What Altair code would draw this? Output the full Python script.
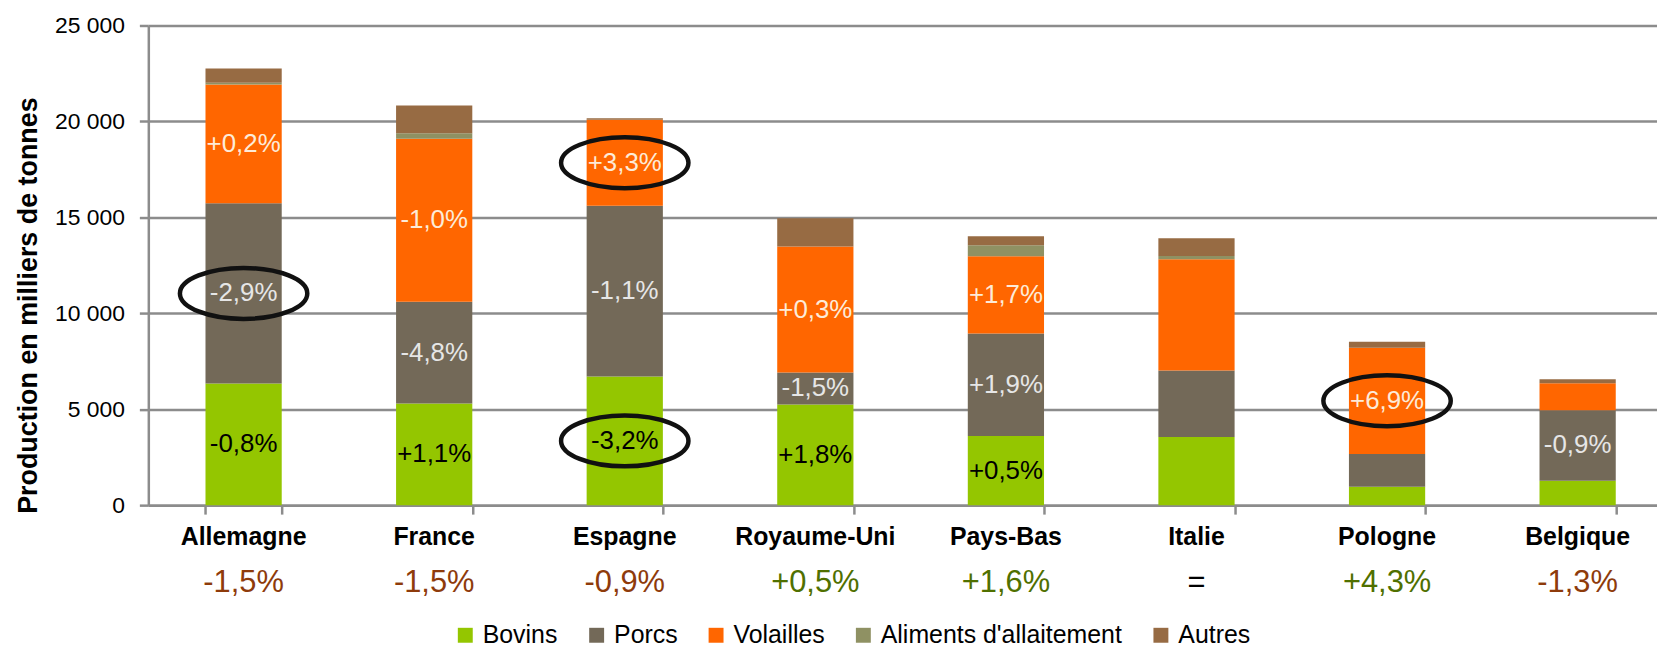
import altair as alt
import pandas as pd

countries = ["Allemagne", "France", "Espagne", "Royaume-Uni", "Pays-Bas", "Italie", "Pologne", "Belgique"]
categories = ["Bovins", "Porcs", "Volailles", "Aliments d'allaitement", "Autres"]

bovins = [6340, 5300, 6700, 5250, 3600, 3550, 960, 1270]
porcs = [9390, 5300, 8900, 1660, 5350, 3470, 1710, 3680]
volailles = [6190, 8490, 4490, 6570, 4020, 5800, 5540, 1400]
aliments = [100, 290, 0, 0, 570, 160, 0, 0]
autres = [740, 1450, 70, 1470, 470, 930, 310, 210]

bovins_labels = ["-0,8%", "+1,1%", "-3,2%", "+1,8%", "+0,5%", "", "", ""]
porcs_labels = ["-2,9%", "-4,8%", "-1,1%", "-1,5%", "+1,9%", "", "", "-0,9%"]
volailles_labels = ["+0,2%", "-1,0%", "+3,3%", "+0,3%", "+1,7%", "", "+6,9%", ""]
aliments_labels = [""] * 8
autres_labels = [""] * 8

total_labels = ["-1,5%", "-1,5%", "-0,9%", "+0,5%", "+1,6%", "=", "+4,3%", "-1,3%"]

circled = [("Allemagne", "Porcs"), ("Espagne", "Volailles"), ("Espagne", "Bovins"), ("Pologne", "Volailles")]

colors = ["#94C600", "#736958", "#FF6600", "#8F9163", "#976B43"]
label_colors = ["#000000", "#E6E6E6", "#FDEBD8", "#000000", "#000000"]

series = [bovins, porcs, volailles, aliments, autres]
series_labels = [bovins_labels, porcs_labels, volailles_labels, aliments_labels, autres_labels]

rows = []
for i, c in enumerate(countries):
    base = 0
    for k, cat in enumerate(categories):
        v = series[k][i]
        rows.append({
            "country": c, "category": cat, "order": k, "value": v,
            "start": base, "end": base + v, "mid": base + v / 2,
            "label": series_labels[k][i],
            "circled": (c, cat) in circled,
        })
        base += v
df = pd.DataFrame(rows)

tot = pd.DataFrame({"country": countries, "total": total_labels})
tot["sign"] = tot["total"].str[0].map({"-": "neg", "+": "pos", "=": "eq"})

FONT = "Liberation Sans"
W, H = 1516, 482
STEP_RANGE = 1532

xscale = alt.Scale(domain=countries, range=[0, STEP_RANGE], paddingInner=0.6, paddingOuter=0.3)
yscale = alt.Scale(domain=[0, 25000], nice=False)

x_enc = alt.X("country:N", scale=xscale, sort=countries,
              axis=alt.Axis(title=None, labels=False, tickBand="extent", tickSize=9,
                            domainColor="#8C8C8C", tickColor="#8C8C8C",
                            domainWidth=2.5, tickWidth=2.5, grid=False))

bars = alt.Chart(df).mark_bar().encode(
    x=x_enc,
    y=alt.Y("start:Q", scale=yscale,
            axis=alt.Axis(values=[0, 5000, 10000, 15000, 20000, 25000],
                          labelExpr="replace(format(datum.value, ','), ',', ' ')",
                          title="Production en milliers de tonnes",
                          titleFont=FONT, titleFontSize=27, titleFontWeight="bold",
                          titleColor="#000000", titleX=-120, titleY=281,
                          titleAngle=-90, titleBaseline="middle", titleAlign="center",
                          labelFont=FONT, labelFontSize=23, labelColor="#000000",
                          labelPadding=15, tickSize=9,
                          tickColor="#8C8C8C", tickWidth=2.5,
                          domainColor="#8C8C8C", domainWidth=2.5,
                          grid=True, gridColor="#8C8C8C", gridWidth=2.5)),
    y2="end:Q",
    color=alt.Color("category:N", scale=alt.Scale(domain=categories, range=colors),
                    sort=categories,
                    legend=alt.Legend(title=None, orient="none", direction="horizontal",
                                      legendX=306, legendY=600,
                                      symbolType="square", symbolSize=225,
                                      symbolStrokeWidth=0, labelFont=FONT,
                                      labelFontSize=25, labelColor="#000000",
                                      labelLimit=0, labelOffset=5, columnPadding=26)),
    order=alt.Order("order:Q"),
)

seg_labels = alt.Chart(df).transform_filter("datum.label != ''").mark_text(
    font=FONT, fontSize=26, baseline="middle", align="center"
).encode(
    x=alt.X("country:N", scale=xscale, sort=countries),
    y=alt.Y("mid:Q", scale=yscale),
    text="label:N",
    color=alt.Color("category:N", scale=alt.Scale(domain=categories, range=label_colors), legend=None),
)

ellipses = alt.Chart(df).transform_filter("datum.circled").mark_point(
    shape="M -1 0 A 1 0.4 0 1 1 1 0 A 1 0.4 0 1 1 -1 0 Z",
    filled=False, size=128 * 128, strokeWidth=4.5, color="#111111", opacity=1,
).encode(
    x=alt.X("country:N", scale=xscale, sort=countries),
    y=alt.Y("mid:Q", scale=yscale),
)

country_text = alt.Chart(tot).mark_text(
    font=FONT, fontSize=25, fontWeight="bold", baseline="middle", align="center", color="#000000"
).encode(
    x=alt.X("country:N", scale=xscale, sort=countries),
    y=alt.value(514),
    text="country:N",
)

total_text = alt.Chart(tot).mark_text(
    font=FONT, fontSize=31, baseline="middle", align="center"
).encode(
    x=alt.X("country:N", scale=xscale, sort=countries),
    y=alt.value(560),
    text="total:N",
    color=alt.Color("sign:N", scale=alt.Scale(domain=["neg", "pos", "eq"],
                                              range=["#8E3B0B", "#507000", "#000000"]),
                    legend=None),
)

chart = alt.layer(bars, seg_labels, ellipses, country_text, total_text).resolve_scale(
    color="independent"
).properties(
    width=W, height=H,
    autosize=alt.AutoSizeParams(type="none"),
    padding={"left": 141, "top": 16, "right": 0, "bottom": 147},
).configure_view(stroke=None).configure(background="#FFFFFF")

chart.save("out.html", embed_options={"renderer": "svg", "actions": False})
